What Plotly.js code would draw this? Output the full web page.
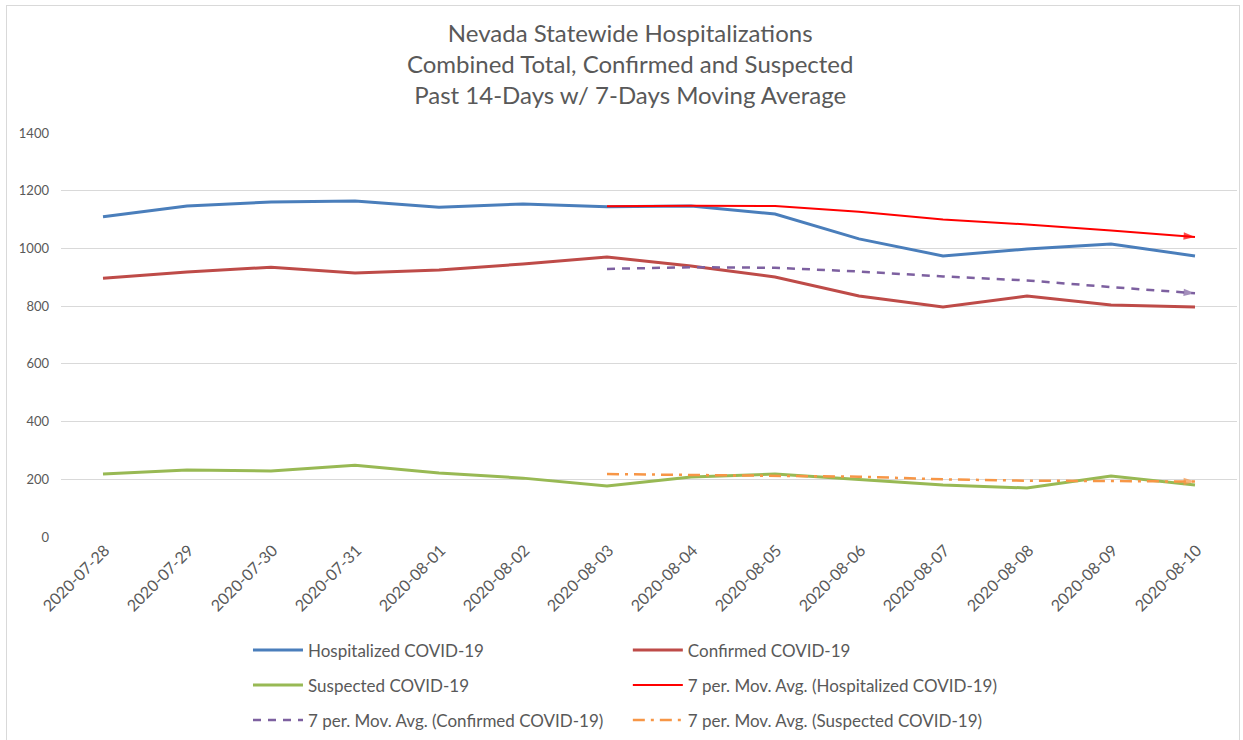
<!DOCTYPE html>
<html>
<head>
<meta charset="utf-8">
<script src="https://cdn.plot.ly/plotly-3.0.1.min.js"></script>
<style>
  html, body { margin: 0; padding: 0; background: #ffffff; }
  #frame { position: absolute; left: 6px; top: 5px; width: 1234px; height: 740px; border: 1px solid #d9d9d9; box-sizing: border-box; pointer-events: none; z-index: 5; }
  #chart { position: absolute; left: 0; top: 0; width: 1243px; height: 740px; }
</style>
</head>
<body>
<div id="chart"></div>
<div id="frame"></div>
<script>
const dates = ["2020-07-28","2020-07-29","2020-07-30","2020-07-31","2020-08-01","2020-08-02","2020-08-03","2020-08-04","2020-08-05","2020-08-06","2020-08-07","2020-08-08","2020-08-09","2020-08-10"];
const hospitalized = [1110, 1147, 1161, 1164, 1143, 1154, 1144, 1147, 1119, 1033, 974, 998, 1015, 974];
const confirmed = [897, 918, 935, 915, 925, 946, 970, 939, 901, 835, 797, 835, 804, 797];
const suspected = [218, 232, 229, 249, 222, 204, 177, 208, 218, 198, 180, 170, 211, 180];
const maHospitalized = [null, null, null, null, null, null, 1146, 1148, 1147, 1127, 1100, 1083, 1062, 1040];
const maConfirmed = [null, null, null, null, null, null, 929, 935, 933, 920, 903, 889, 866, 845];
const maSuspected = [null, null, null, null, null, null, 218, 215, 213, 209, 200, 195, 194, 192];
const yTicks = [0, 200, 400, 600, 800, 1000, 1200, 1400];
const titleLines = ["Nevada Statewide Hospitalizations", "Combined Total, Confirmed and Suspected", "Past 14-Days w/ 7-Days Moving Average"];
const names = ["Hospitalized COVID-19", "Confirmed COVID-19", "Suspected COVID-19", "7 per. Mov. Avg. (Hospitalized COVID-19)", "7 per. Mov. Avg. (Confirmed COVID-19)", "7 per. Mov. Avg. (Suspected COVID-19)"];

const FONT = "Lato, 'Open Sans', sans-serif";
const GRAY = "#595959";

function lineTrace(y, name, color, width, dash, legend, group) {
  return { x: dates, y: y, name: name, type: "scatter", mode: "lines",
    line: { color: color, width: width, dash: dash || "solid" },
    legend: legend, legendgroup: group, connectgaps: false, hoverinfo: "x+y+name" };
}
function arrowTrace(y, color, legend) {
  const n = dates.length;
  return { x: dates.slice(n - 2), y: y.slice(n - 2), type: "scatter", mode: "markers",
    marker: { symbol: "arrow", angleref: "previous", size: [0, 12], color: color, line: { width: 0 } },
    showlegend: false, hoverinfo: "skip", legend: legend };
}

const traces = [
  lineTrace(hospitalized, names[0], "#4a7ebb", 3, null, "legend", "g1"),
  lineTrace(confirmed, names[1], "#be4b48", 3, null, "legend2", "g2"),
  lineTrace(suspected, names[2], "#98b954", 3, null, "legend", "g3"),
  lineTrace(maHospitalized, names[3], "#ff0000", 2, null, "legend2", "g4"),
  lineTrace(maConfirmed, names[4], "#7d60a0", 2.5, "8px,7px", "legend", "g5"),
  lineTrace(maSuspected, names[5], "#f79646", 2.5, "12px,6px,3px,6px", "legend2", "g6"),
  arrowTrace(maHospitalized, "#ff0000", "legend2"),
  arrowTrace(maConfirmed, "#7d60a0", "legend"),
  arrowTrace(maSuspected, "#f79646", "legend2")
];

const legendCommon = { orientation: "v", xanchor: "left", yanchor: "top", y: -0.236,
  font: { family: FONT, size: 17, color: GRAY }, tracegroupgap: 10, itemwidth: 50, bgcolor: "rgba(0,0,0,0)" };

const layout = {
  width: 1243, height: 740,
  margin: { l: 61, r: 6, t: 133, b: 203, autoexpand: false },
  paper_bgcolor: "#ffffff", plot_bgcolor: "#ffffff",
  font: { family: FONT, color: GRAY },
  title: { text: titleLines.join("<br>"), font: { family: FONT, size: 24, color: GRAY },
    x: 0.507, xref: "container", xanchor: "center", y: 1 - 42 / 740, yref: "container", yanchor: "middle" },
  xaxis: { type: "category", range: [-0.5, 13.5], tickangle: -45, showgrid: false, showline: false,
    ticks: "", zeroline: false, ticklabelstandoff: 0, ticklabelshift: 2,
    tickfont: { family: FONT, size: 16, color: GRAY }, fixedrange: true },
  yaxis: { range: [0, 1400], tickvals: yTicks, ticktext: yTicks.map(String), showgrid: true, gridcolor: "#d9d9d9",
    gridwidth: 1, zeroline: false, showline: false, ticks: "", ticklabelstandoff: 11,
    tickfont: { family: FONT, size: 13, color: GRAY }, fixedrange: true },
  legend: Object.assign({}, legendCommon, { x: 0.159 }),
  legend2: Object.assign({}, legendCommon, { x: 0.482 }),
  showlegend: true
};

Plotly.newPlot("chart", traces, layout, { displayModeBar: false, staticPlot: true });
</script>
</body>
</html>
